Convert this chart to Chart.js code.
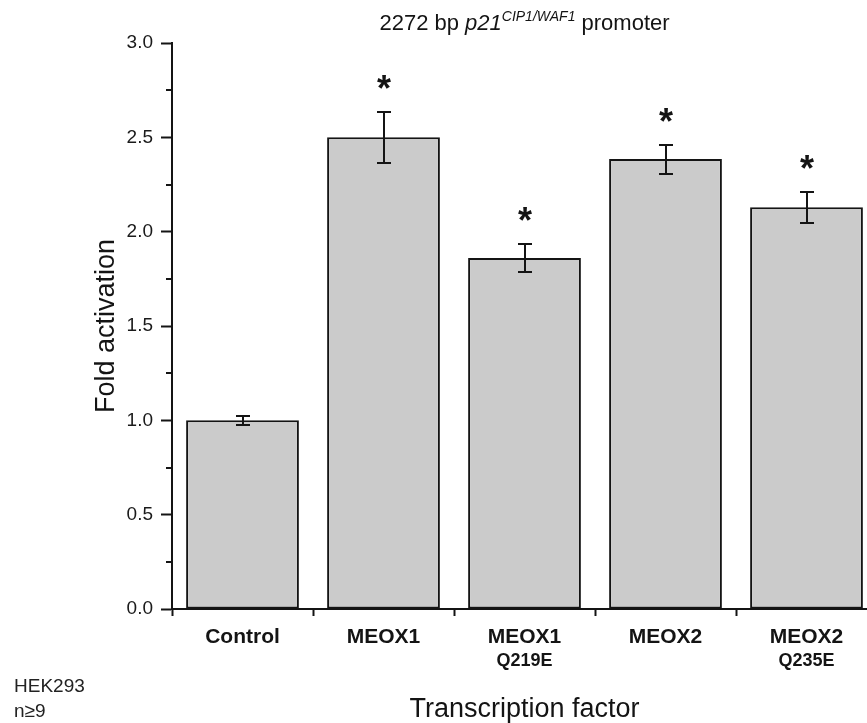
<!DOCTYPE html>
<html>
<head>
<meta charset="utf-8">
<script src="https://cdn.jsdelivr.net/npm/chart.js@4/dist/chart.umd.min.js"></script>
<style>
  html, body { margin: 0; padding: 0; overflow: hidden; background: #fff; width: 867px; height: 723px; }
  #wrap { width: 885px; height: 723px; }
</style>
</head>
<body>
<div id="wrap"><canvas id="c" width="885" height="723"></canvas></div>
<script>
// Reporter assay: fold activation of the p21 promoter by each transcription factor
const categories = [['Control'], ['MEOX1'], ['MEOX1', 'Q219E'], ['MEOX2'], ['MEOX2', 'Q235E']];
const foldActivation = [1.00, 2.50, 1.86, 2.385, 2.13];
const errorSE = [0.025, 0.135, 0.075, 0.077, 0.082];
const significant = [false, true, true, true, true];
const yTicks = [0.0, 0.5, 1.0, 1.5, 2.0, 2.5, 3.0];
const yMinorTicks = [0.25, 0.75, 1.25, 1.75, 2.25, 2.75];

const FONT = "'Liberation Sans', Arial, Helvetica, sans-serif";
const INK = '#141414';
const STAR_SIZE = 36;

const annotations = {
  id: 'annotations',
  afterDraw(chart) {
    const ctx = chart.ctx;
    const xs = chart.scales.x, ys = chart.scales.y;
    const area = chart.chartArea;
    const meta = chart.getDatasetMeta(0);
    ctx.save();
    ctx.strokeStyle = INK;
    ctx.fillStyle = INK;
    ctx.lineWidth = 2;

    // minor ticks on the y axis
    yMinorTicks.forEach(v => {
      const y = Math.round(ys.getPixelForValue(v));
      ctx.beginPath();
      ctx.moveTo(area.left - 6, y);
      ctx.lineTo(area.left, y);
      ctx.stroke();
    });

    // error bars and significance stars
    foldActivation.forEach((v, i) => {
      const x = Math.round(meta.data[i].x);
      const yTop = Math.round(ys.getPixelForValue(v + errorSE[i]));
      const yBot = Math.round(ys.getPixelForValue(v - errorSE[i]));
      ctx.beginPath();
      ctx.moveTo(x, yTop); ctx.lineTo(x, yBot);
      ctx.moveTo(x - 7, yTop); ctx.lineTo(x + 7, yTop);
      ctx.moveTo(x - 7, yBot); ctx.lineTo(x + 7, yBot);
      ctx.stroke();
      if (significant[i]) {
        ctx.font = `bold ${STAR_SIZE}px ${FONT}`;
        ctx.textAlign = 'center';
        ctx.textBaseline = 'alphabetic';
        ctx.fillText('*', x, yTop - 32 + STAR_SIZE * 0.57);
      }
    });

    // category labels (second line smaller)
    ctx.textAlign = 'center';
    ctx.textBaseline = 'alphabetic';
    categories.forEach((lines, i) => {
      const x = xs.getPixelForValue(i);
      ctx.font = `bold 21px ${FONT}`;
      ctx.fillText(lines[0], x, 643);
      if (lines[1]) {
        ctx.font = `bold 18px ${FONT}`;
        ctx.fillText(lines[1], x, 666);
      }
    });

    // title with italic gene name and superscript
    const cx = (area.left + area.right) / 2;
    const parts = [
      { t: '2272 bp ', f: `22px ${FONT}`, dy: 0 },
      { t: 'p21', f: `italic 22px ${FONT}`, dy: 0 },
      { t: 'CIP1/WAF1', f: `italic 14px ${FONT}`, dy: -9 },
      { t: ' promoter', f: `22px ${FONT}`, dy: 0 }
    ];
    let total = 0;
    parts.forEach(p => { ctx.font = p.f; p.w = ctx.measureText(p.t).width; total += p.w; });
    let tx = cx - total / 2;
    ctx.textAlign = 'left';
    parts.forEach(p => {
      ctx.font = p.f;
      ctx.fillText(p.t, tx, 30 + p.dy);
      tx += p.w;
    });

    // axis titles
    ctx.font = `27px ${FONT}`;
    ctx.textAlign = 'center';
    ctx.fillText('Transcription factor', cx, 717);
    ctx.save();
    ctx.translate(114, (area.top + area.bottom) / 2);
    ctx.rotate(-Math.PI / 2);
    ctx.fillText('Fold activation', 0, 0);
    ctx.restore();

    // cell line and replicate note
    ctx.font = `19px ${FONT}`;
    ctx.textAlign = 'left';
    ctx.fillStyle = '#222';
    ctx.fillText('HEK293', 14, 692);
    ctx.fillText('n\u22659', 14, 717);
    ctx.restore();
  }
};

new Chart(document.getElementById('c').getContext('2d'), {
  type: 'bar',
  data: {
    labels: categories.map(l => l.join(' ')),
    datasets: [{
      data: foldActivation,
      backgroundColor: '#cbcbcb',
      borderColor: INK,
      borderWidth: 2,
      borderSkipped: false,
      barPercentage: 0.8,
      categoryPercentage: 1.0
    }]
  },
  options: {
    responsive: false,
    animation: false,
    events: [],
    layout: { padding: { top: 43, right: 8, left: 0, bottom: 0 } },
    plugins: { legend: { display: false }, tooltip: { enabled: false }, title: { display: false } },
    scales: {
      x: {
        type: 'category',
        offset: true,
        z: 1,
        grid: { display: true, offset: true, drawOnChartArea: false, drawTicks: true, tickLength: 7, tickColor: INK, tickWidth: 2 },
        border: { display: true, color: INK, width: 2 },
        ticks: { display: false },
        afterFit(s) { s.height = 114; }
      },
      y: {
        min: 0, max: 3,
        z: 1,
        afterBuildTicks(s) { s.ticks = yTicks.map(v => ({ value: v })); },
        grid: { display: true, drawOnChartArea: false, drawTicks: true, tickLength: 11, tickColor: INK, tickWidth: 2 },
        border: { display: true, color: INK, width: 2 },
        ticks: { font: { family: FONT, size: 19 }, color: '#1a1a1a', padding: 8, callback: v => Number(v).toFixed(1) },
        afterFit(s) { s.width = 172; }
      }
    }
  },
  plugins: [annotations]
});
</script>
</body>
</html>
